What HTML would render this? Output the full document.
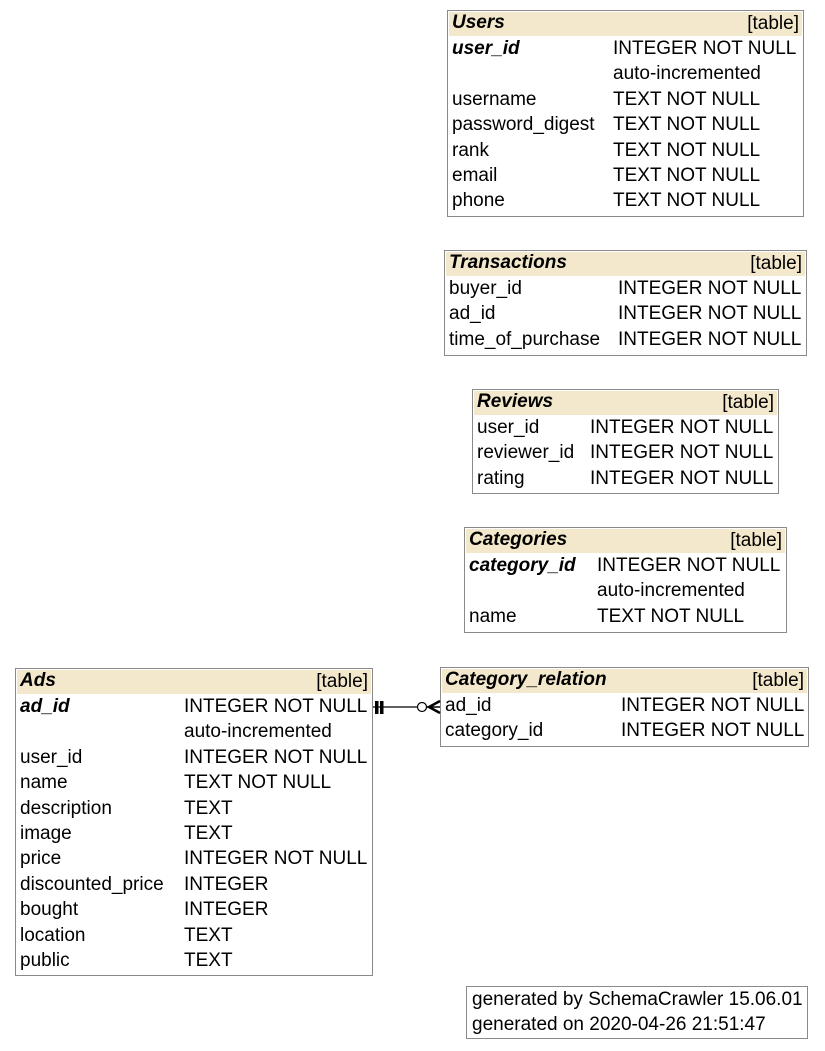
<!DOCTYPE html>
<html><head><meta charset="utf-8"><style>
body{margin:0;width:825px;height:1051px;background:#fff;position:relative;font-family:"Liberation Sans",Arial,sans-serif;font-size:19px;color:#000;overflow:hidden}
.t{position:absolute;border:1px solid #8a8a8a;box-sizing:border-box;background:#fff}
.h{position:relative;height:24px;line-height:21px;background:#f3e8cb;margin:1px 1px 0 1px}
.h b{position:absolute;left:3px;font-style:italic;font-weight:bold}
.h span{position:absolute;right:3px;top:1px}
.r{position:relative;height:25.4px;line-height:25.4px;white-space:nowrap}
.r .a{position:absolute;left:4px}
.r .k{font-weight:bold;font-style:italic}
.r .b{position:absolute}
.f{position:absolute;border:1px solid #8a8a8a;box-sizing:border-box;left:466px;top:986px;width:342px;height:53px;line-height:25px;padding:0 0 0 5px;white-space:nowrap}
</style></head><body>

<div class="t" style="left:447px;top:10px;width:357px;height:207px">
<div class="h"><b>Users</b><span>[table]</span></div>
<div class="r"><span class="a k">user_id</span><span class="b" style="left:165px">INTEGER NOT NULL</span></div>
<div class="r"><span class="b" style="left:165px">auto-incremented</span></div>
<div class="r"><span class="a">username</span><span class="b" style="left:165px">TEXT NOT NULL</span></div>
<div class="r"><span class="a">password_digest</span><span class="b" style="left:165px">TEXT NOT NULL</span></div>
<div class="r"><span class="a">rank</span><span class="b" style="left:165px">TEXT NOT NULL</span></div>
<div class="r"><span class="a">email</span><span class="b" style="left:165px">TEXT NOT NULL</span></div>
<div class="r"><span class="a">phone</span><span class="b" style="left:165px">TEXT NOT NULL</span></div>
</div>

<div class="t" style="left:444px;top:250px;width:363px;height:106px">
<div class="h"><b>Transactions</b><span>[table]</span></div>
<div class="r"><span class="a">buyer_id</span><span class="b" style="left:173px">INTEGER NOT NULL</span></div>
<div class="r"><span class="a">ad_id</span><span class="b" style="left:173px">INTEGER NOT NULL</span></div>
<div class="r"><span class="a">time_of_purchase</span><span class="b" style="left:173px">INTEGER NOT NULL</span></div>
</div>

<div class="t" style="left:472px;top:389px;width:307px;height:105px">
<div class="h"><b>Reviews</b><span>[table]</span></div>
<div class="r"><span class="a">user_id</span><span class="b" style="left:117px">INTEGER NOT NULL</span></div>
<div class="r"><span class="a">reviewer_id</span><span class="b" style="left:117px">INTEGER NOT NULL</span></div>
<div class="r"><span class="a">rating</span><span class="b" style="left:117px">INTEGER NOT NULL</span></div>
</div>

<div class="t" style="left:464px;top:527px;width:323px;height:106px">
<div class="h"><b>Categories</b><span>[table]</span></div>
<div class="r"><span class="a k">category_id</span><span class="b" style="left:132px">INTEGER NOT NULL</span></div>
<div class="r"><span class="b" style="left:132px">auto-incremented</span></div>
<div class="r"><span class="a">name</span><span class="b" style="left:132px">TEXT NOT NULL</span></div>
</div>

<div class="t" style="left:15px;top:668px;width:358px;height:308px">
<div class="h"><b>Ads</b><span>[table]</span></div>
<div class="r"><span class="a k">ad_id</span><span class="b" style="left:168px">INTEGER NOT NULL</span></div>
<div class="r"><span class="b" style="left:168px">auto-incremented</span></div>
<div class="r"><span class="a">user_id</span><span class="b" style="left:168px">INTEGER NOT NULL</span></div>
<div class="r"><span class="a">name</span><span class="b" style="left:168px">TEXT NOT NULL</span></div>
<div class="r"><span class="a">description</span><span class="b" style="left:168px">TEXT</span></div>
<div class="r"><span class="a">image</span><span class="b" style="left:168px">TEXT</span></div>
<div class="r"><span class="a">price</span><span class="b" style="left:168px">INTEGER NOT NULL</span></div>
<div class="r"><span class="a">discounted_price</span><span class="b" style="left:168px">INTEGER</span></div>
<div class="r"><span class="a">bought</span><span class="b" style="left:168px">INTEGER</span></div>
<div class="r"><span class="a">location</span><span class="b" style="left:168px">TEXT</span></div>
<div class="r"><span class="a">public</span><span class="b" style="left:168px">TEXT</span></div>
</div>

<div class="t" style="left:440px;top:667px;width:369px;height:80px">
<div class="h"><b>Category_relation</b><span>[table]</span></div>
<div class="r"><span class="a">ad_id</span><span class="b" style="left:180px">INTEGER NOT NULL</span></div>
<div class="r"><span class="a">category_id</span><span class="b" style="left:180px">INTEGER NOT NULL</span></div>
</div>

<svg style="position:absolute;left:0;top:0" width="825" height="1051">
<line x1="373" y1="707" x2="417" y2="707" stroke="#000" stroke-width="1.2"/>
<rect x="375" y="701" width="3.5" height="13" fill="#000"/>
<rect x="380" y="701" width="3.5" height="13" fill="#000"/>
<circle cx="422" cy="707" r="4.5" fill="#fff" stroke="#000" stroke-width="1.2"/>
<line x1="427" y1="707" x2="440" y2="707" stroke="#000" stroke-width="1.5"/>
<path d="M440 701 L429 707 L440 713" fill="none" stroke="#000" stroke-width="2.5"/>
</svg>

<div class="f">generated by SchemaCrawler 15.06.01<br>generated on 2020-04-26 21:51:47</div>
</body></html>
